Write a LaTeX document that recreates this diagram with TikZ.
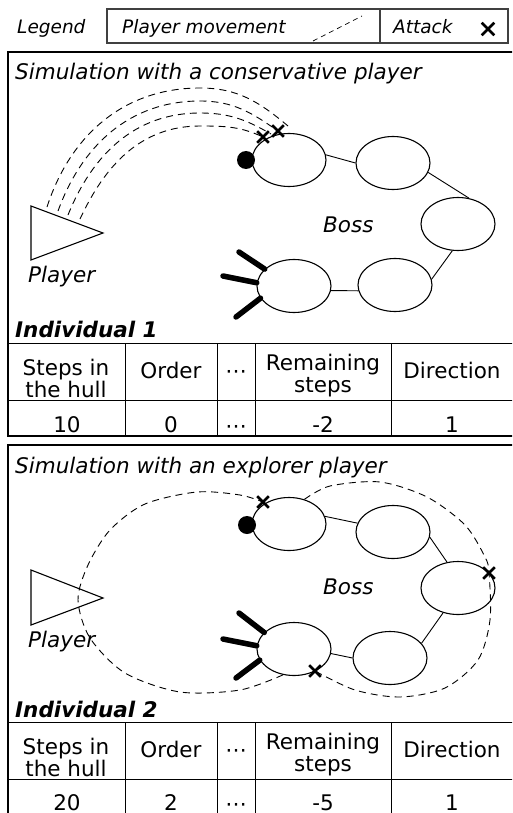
\documentclass[tikz,border=0pt]{standalone}
\usepackage{fontspec}
\setmainfont{DejaVu Sans}
\usetikzlibrary{shapes.geometric,shapes.misc}
\newcommand{\figfont}{\fontsize{21.5}{22}\selectfont}
\newcommand{\legfont}{\fontsize{18.5}{20}\selectfont}
\tikzset{
  segment/.style={ellipse, draw, line width=1.1pt, minimum width=74pt, minimum height=53pt, inner sep=0pt},
  link/.style={line width=0.9pt},
  hit/.style={cross out, draw, line width=2.6pt, minimum size=9pt, inner sep=0pt},
  spike/.style={line width=5.5pt, line cap=round},
  moving/.style={line width=0.9pt, dash pattern=on 7pt off 5pt},
  txt/.style={anchor=base west, inner sep=0pt, font=\figfont\itshape},
  cell/.style={anchor=base, inner sep=0pt, font=\figfont, align=center},
  frame/.style={line width=2.5pt},
  rule/.style={line width=0.9pt}
}
\begin{document}
\begin{tikzpicture}[x=1pt,y=1pt]
        \useasboundingbox (0,0) rectangle (512,-813);
        \clip (0,0) rectangle (512,-813);
        % Legenda
        \node[txt, font=\legfont\itshape] (leg) at (17,-34) {Legend};
        \draw[line width=1.3pt, black!75] (107,-9) rectangle (508,-43) (380,-9) -- (380,-43);
        \node[txt, font=\legfont\itshape] (legmove) at (122,-34) {Player movement};
        \coordinate (lm1) at (313,-41);
        \coordinate (lm2) at (362,-16);
        \draw[moving, line width=0.7pt, dash pattern=on 5pt off 4pt] (lm1) -- (lm2);
        \node[txt, font=\legfont\itshape] (legatk) at (393,-34) {Attack};
        \node[hit, minimum size=10pt] (legx) at (488,-29) {};

        % Simulazione 1
        \draw[frame] (8,-52) rectangle (530,-436);
        \node[txt] (sim1) at (15,-80) {Simulation with a conservative player};
        \draw[line width=1.1pt] (31,-206) -- (103,-233) -- (31,-260) -- cycle;
        \node[txt] (pl1) at (28,-282) {Player};
        \node[segment] (a1) at (289,-160) {};
        \node[segment] (a2) at (393,-163) {};
        \node[segment] (a3) at (458,-224) {};
        \node[segment] (a4) at (395,-285) {};
        \node[segment] (a5) at (294,-286) {};
        \node[txt] (boss1) at (323,-232) {Boss};
        \draw[link] (a1.8) -- (a2.180);
        \draw[link] (a2.-15) -- (a3.67);
        \draw[link] (a3.-102) -- (a4.9);
        \draw[link] (a4.-171) -- (a5.-7);
        \node[circle, fill, minimum size=18pt, inner sep=0pt] (head1) at (246,-160) {};
        \coordinate (s11) at (239,-252);
        \coordinate (s12) at (223,-276);
        \coordinate (s13) at (236,-317);
        \draw[spike] (s11) -- (a5.150);
        \draw[spike] (s12) -- (a5.175);
        \draw[spike] (s13) -- (a5.-160);
        \node[hit] (x11) at (263,-137) {};
        \node[hit] (x12) at (278,-131) {};
        \coordinate (p11) at (47,-207);
        \coordinate (p12) at (58,-211);
        \coordinate (p13) at (68,-215);
        \coordinate (p14) at (80,-219);
        \coordinate (e11) at (288,-126);
        \coordinate (e13) at (271,-134);
        \draw[moving] (p11) to[out=72,in=180] (200,-88) to[out=0,in=140] (e11);
        \draw[moving] (p12) to[out=70,in=180] (200,-101) to[out=0,in=145] (x12.center);
        \draw[moving] (p13) to[out=68,in=180] (200,-113) to[out=0,in=150] (e13);
        \draw[moving] (p14) to[out=65,in=180] (200,-126) to[out=0,in=155] (x11.center);
        \node[txt, font=\figfont\bfseries\itshape] (ind1) at (15,-337) {Individual 1};
        \draw[rule] (8,-343) -- (530,-343) (8,-400) -- (530,-400);
        \draw[rule] (125,-343) -- (125,-436) (217,-343) -- (217,-436) (255,-343) -- (255,-436) (391,-343) -- (391,-436);
        \node[cell] (h11) at (66,-397) {Steps in\\the hull};
        \node[cell] (h12) at (171,-378) {Order};
        \node[cell] (h13) at (236,-378) {⋯};
        \node[cell] (h14) at (323,-392) {Remaining\\steps};
        \node[cell] (h15) at (452,-378) {Direction};
        \node[cell] (v11) at (67,-432) {10};
        \node[cell] (v12) at (171,-432) {0};
        \node[cell] (v13) at (236,-433) {⋯};
        \node[cell] (v14) at (323,-432) {-2};
        \node[cell] (v15) at (452,-432) {1};

        % Simulazione 2
        \draw[frame] (8,-445) rectangle (530,-830);
        \node[txt] (sim2) at (15,-473) {Simulation with an explorer player};
        \draw[line width=1.1pt] (31,-570) -- (103,-598) -- (31,-625) -- cycle;
        \node[txt] (pl2) at (28,-647) {Player};
        \node[segment] (b1) at (289,-524) {};
        \node[segment] (b2) at (393,-532) {};
        \node[segment] (b3) at (458,-588) {};
        \node[segment] (b4) at (390,-658) {};
        \node[segment] (b5) at (294,-649) {};
        \node[txt] (boss2) at (323,-594) {Boss};
        \draw[link] (b1.12) -- (b2.166);
        \draw[link] (b2.-8) -- (b3.113);
        \draw[link] (b3.-121) -- (b4.25);
        \draw[link] (b4.180) -- (b5.-7);
        \node[circle, fill, minimum size=18pt, inner sep=0pt] (head2) at (247,-525) {};
        \coordinate (s21) at (239,-613);
        \coordinate (s22) at (223,-639);
        \coordinate (s23) at (236,-678);
        \draw[spike] (s21) -- (b5.151);
        \draw[spike] (s22) -- (b5.175);
        \draw[spike] (s23) -- (b5.-162);
        \node[hit] (x21) at (263,-502) {};
        \node[hit] (x22) at (489,-573) {};
        \node[hit] (x23) at (315,-671) {};
        \draw[moving] plot[smooth] coordinates {(b1.58) (330,-486) (380,-482) (427,-497) (465,-525) (485,-557) (x22.center) (490,-620) (478,-660) (445,-688) (400,-697) (355,-690) (x23.center)};
        \draw[moving] plot[smooth] coordinates {(b5.-113) (240,-690) (180,-692) (125,-673) (90,-638) (78,-600) (88,-565) (110,-530) (145,-504) (197,-492) (240,-495) (x21.center)};
        \node[txt, font=\figfont\bfseries\itshape] (ind2) at (15,-717) {Individual 2};
        \draw[rule] (8,-722) -- (530,-722) (8,-779) -- (530,-779);
        \draw[rule] (125,-722) -- (125,-830) (217,-722) -- (217,-830) (255,-722) -- (255,-830) (391,-722) -- (391,-830);
        \node[cell] (h21) at (66,-776) {Steps in\\the hull};
        \node[cell] (h22) at (171,-757) {Order};
        \node[cell] (h23) at (236,-757) {⋯};
        \node[cell] (h24) at (323,-771) {Remaining\\steps};
        \node[cell] (h25) at (452,-757) {Direction};
        \node[cell] (v21) at (67,-810) {20};
        \node[cell] (v22) at (171,-810) {2};
        \node[cell] (v23) at (236,-811) {⋯};
        \node[cell] (v24) at (323,-810) {-5};
        \node[cell] (v25) at (452,-810) {1};
    \end{tikzpicture}
\end{document}
